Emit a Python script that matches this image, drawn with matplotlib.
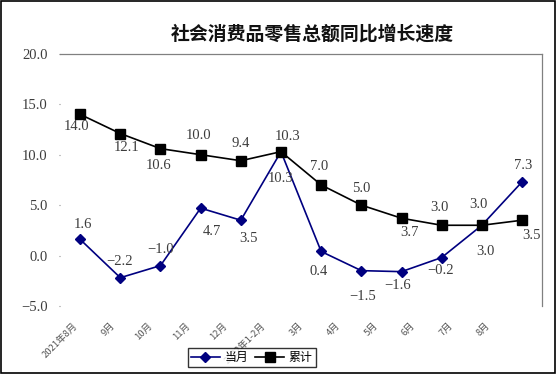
import matplotlib
matplotlib.use("Agg")
import matplotlib.pyplot as plt
import numpy as np
from matplotlib.patches import Rectangle
from matplotlib.lines import Line2D

plt.rcParams['font.family'] = ['Noto Sans CJK SC', 'DejaVu Sans']

# data
months = ['2021年8月', '9月', '10月', '11月', '12月', '2022年1-2月',
          '3月', '4月', '5月', '6月', '7月', '8月']
monthly = [1.6, -2.2, -1.0, 4.7, 3.5, 10.3, 0.4, -1.5, -1.6, -0.2, 3.0, 7.3]
cumulative = [14.0, 12.1, 10.6, 10.0, 9.4, 10.3, 7.0, 5.0, 3.7, 3.0, 3.0, 3.5]
yticks = [-5.0, 0.0, 5.0, 10.0, 15.0, 20.0]

# label offsets in pixels (dx, dy) for each data label
monthly_off = [(3, 15), (-1, 16), (0, 16), (11, -23), (8, -18), (0, -27),
               (-3, -20), (1, -26), (-4, -14), (-1, -13), (4, -26), (1, 16)]
cumul_off = [(-4, -12), (6, -14), (-2, -17), (-2, 19), (0, 17), (7, 15),
             (-2, 18), (0, 17), (8, -14), (-2, 18), (-3, 21), (9, -15)]

NAVY = '#000080'
TXT = '#3c3c3c'
NUMFONT = 'Liberation Serif'
NUMSIZE = 10.5

fig = plt.figure(figsize=(5.56, 3.74), dpi=100)
ax = fig.add_axes([0.108, 0.182, 0.867, 0.674])

x = np.arange(len(months))
ax.plot(x, monthly, color=NAVY, lw=1.2, marker='D', ms=5, mfc=NAVY, mec=NAVY, zorder=3)
ax.plot(x, cumulative, color='black', lw=1.2, marker='s', ms=7, mfc='black', mec='black', zorder=4)

for xi, v, (dx, dy) in zip(x, monthly, monthly_off):
    ax.annotate(f'{v:.1f}'.replace('-', '\u2212'), (xi, v), xytext=(dx, dy),
                textcoords='offset pixels', ha='center', va='center',
                fontsize=NUMSIZE, color=TXT, family=NUMFONT)
for xi, v, (dx, dy) in zip(x, cumulative, cumul_off):
    ax.annotate(f'{v:.1f}', (xi, v), xytext=(dx, dy),
                textcoords='offset pixels', ha='center', va='center',
                fontsize=NUMSIZE, color=TXT, family=NUMFONT)

ax.set_xlim(-0.5, len(months) - 0.5)
ax.set_ylim(-5, 20)
ax.set_yticks(yticks)
ax.set_yticklabels([f'{t:.1f}'.replace('-', '\u2212') for t in yticks],
                   family=NUMFONT, fontsize=NUMSIZE, color=TXT)
ax.tick_params(axis='y', length=1, width=0.8, color='#888888', pad=8)

# the category labels in the reference drift slightly left of their points
label_pos = x * 0.934 - 0.18
ax.set_xticks(label_pos)
ax.set_xticklabels(months, rotation=45, ha='right', va='top', rotation_mode='anchor',
                   fontsize=6.8, color='#555555')
ax.tick_params(axis='x', length=0, pad=11)

for side in ['left', 'bottom']:
    ax.spines[side].set_visible(False)
for side in ['top', 'right']:
    ax.spines[side].set_color('#808080')
    ax.spines[side].set_linewidth(0.9)

fig.text(0.562, 0.91, '社会消费品零售总额同比增长速度', ha='center', va='center',
         fontsize=13.6, fontweight='bold', color='#111111')

handles = [Line2D([], [], color=NAVY, lw=1.2, marker='D', ms=5),
           Line2D([], [], color='black', lw=1.2, marker='s', ms=7)]
leg = fig.legend(handles, ['当月', '累计'], loc='center', bbox_to_anchor=(0.453, 0.044),
                 ncol=2, fontsize=8.6, frameon=True, fancybox=False, edgecolor='black',
                 handlelength=2.4, columnspacing=0.6, handletextpad=0.4,
                 borderpad=0.25, borderaxespad=0)
leg.get_frame().set_linewidth(1.0)

fig.patches.append(Rectangle((0.0015, 0.002), 0.997, 0.996, transform=fig.transFigure,
                             fill=False, edgecolor='black', lw=1.2))

fig.savefig('out.png', dpi=100)
